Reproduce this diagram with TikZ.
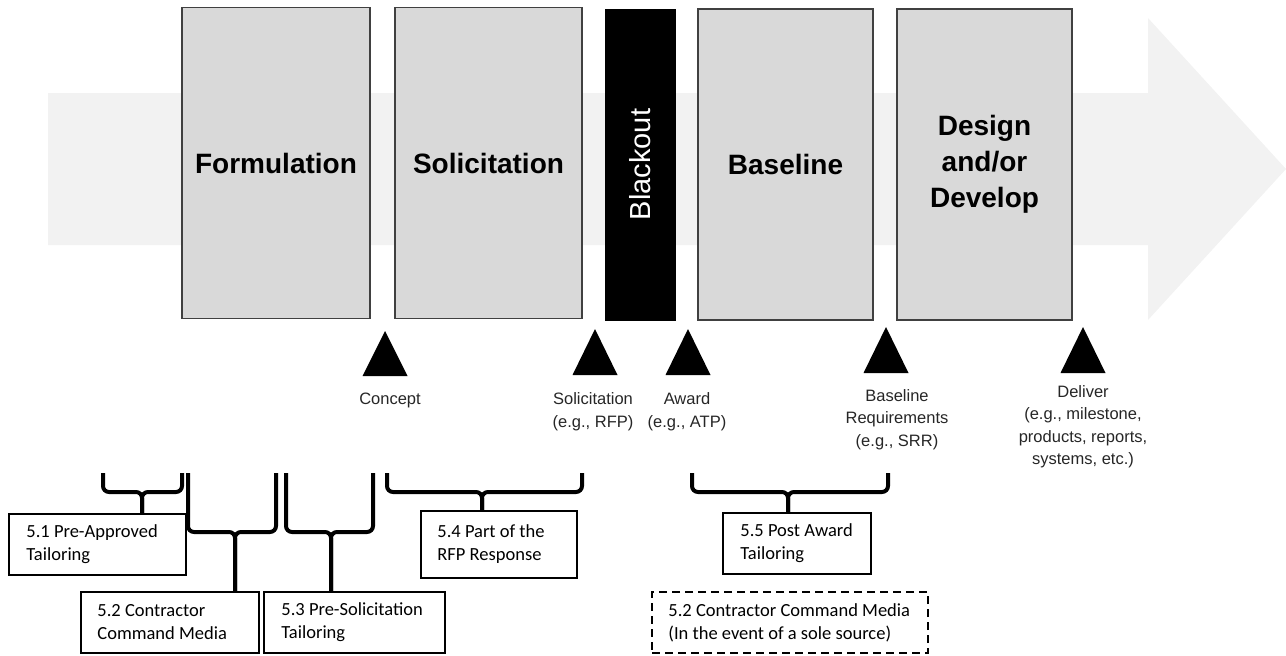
\documentclass[tikz,border=0pt]{standalone}
\usepackage{fontspec}
\setmainfont{Liberation Sans}
\newfontfamily\carlito{Carlito}
\definecolor{phasefill}{HTML}{D9D9D9}
\definecolor{arrowfill}{HTML}{F2F2F2}
\definecolor{labelgray}{HTML}{262626}
\begin{document}
\begin{tikzpicture}[x=1pt,y=-1pt,
  phase/.style={draw=black!75, fill=phasefill, line width=1.2pt, minimum height=311pt,
    inner sep=0pt, align=center, font=\fontsize{28}{36}\selectfont\bfseries},
  milestone/.style={fill=black},
  mlabel/.style={align=center, text=labelgray, inner sep=0pt, font=\fontsize{16.5}{22.5}\selectfont},
  boxframe/.style={draw=black, line width=1.6pt, minimum height=61pt, inner sep=0pt},
  boxtext/.style={anchor=west, align=left, inner sep=0pt, font=\carlito\fontsize{18.5}{23}\selectfont},
  brace/.style={line width=4pt, rounded corners=6pt}
]
\useasboundingbox (0,0) rectangle (1286,656);
% background arrow
\fill[arrowfill] (48,93) -- (1148,93) -- (1148,18) -- (1286,169) -- (1148,320) -- (1148,245) -- (48,245) -- cycle;
% phases
\node[phase, minimum width=188pt] (form) at (276,163) {Formulation};
\node[phase, minimum width=187pt] (soli) at (488.5,163) {Solicitation};
\node[draw=black, fill=black, minimum width=70pt, minimum height=311pt, inner sep=0pt] (black) at (640,164.5) {};
\node[rotate=90, text=white, font=\fontsize{29}{34}\selectfont] (blacktxt) at (black.center) {Blackout};
\node[phase, minimum width=175pt] (base) at (785.5,164.5) {Baseline};
\node[phase, minimum width=175pt] (design) at (984.5,164.5) {Design\\and/or\\Develop};
% milestones
\fill[milestone] (362.5,376) -- (385,331) -- (407.5,376) -- cycle;
\fill[milestone] (572.5,375) -- (595,329) -- (617.5,375) -- cycle;
\fill[milestone] (665.5,375) -- (688,329) -- (710.5,375) -- cycle;
\fill[milestone] (863.5,373) -- (886,327) -- (908.5,373) -- cycle;
\fill[milestone] (1060.5,373) -- (1083,327) -- (1105.5,373) -- cycle;
\node[mlabel] (lconcept) at (390,400) {Concept};
\node[mlabel] (lsol) at (593,411.5) {Solicitation\\(e.g., RFP)};
\node[mlabel] (laward) at (687,411.5) {Award\\(e.g., ATP)};
\node[mlabel] (lbase) at (897,419.5) {Baseline\\Requirements\\(e.g., SRR)};
\node[mlabel] (ldel) at (1083,426.5) {Deliver\\(e.g., milestone,\\products, reports,\\systems, etc.)};
% tailoring boxes
\node[boxframe, minimum width=177pt] (b51) at (97.5,544.5) {};
\node[boxtext] (t51) at ([xshift=18pt]b51.west) {5.1 Pre-Approved\\Tailoring};
\node[boxframe, minimum width=178pt] (b52) at (170,622.5) {};
\node[boxtext] (t52) at ([xshift=17pt]b52.west) {5.2 Contractor\\Command Media};
\node[boxframe, minimum width=181pt] (b53) at (354.5,622.5) {};
\node[boxtext] (t53) at ([xshift=18pt]b53.west) {5.3 Pre-Solicitation\\Tailoring};
\node[boxframe, minimum width=156pt, minimum height=67pt] (b54) at (499,544.5) {};
\node[boxtext] (t54) at ([xshift=17pt]b54.west) {5.4 Part of the\\RFP Response};
\node[boxframe, minimum width=148pt] (b55) at (797,543.5) {};
\node[boxtext] (t55) at ([xshift=18pt]b55.west) {5.5 Post Award\\Tailoring};
\node[boxframe, dash pattern=on 8pt off 5pt, line width=1.5pt, minimum width=276pt] (b52s) at (790,622.5) {};
\node[boxtext] (t52s) at ([xshift=17pt]b52s.west) {5.2 Contractor Command Media\\(In the event of a sole source)};
% brace junctions
\coordinate (j51) at (142,492);
\coordinate (j52) at (235,532);
\coordinate (j53) at (331,532);
\coordinate (j54) at (482,492);
\coordinate (j55) at (788,492);
% braces
\draw[brace] (103,473) |- (j51) -- (j51 |- b51.north);
\draw[brace] (182,473) |- (j51) -- (j51 |- b51.north);
\draw[brace] (188,473) |- (j52) -- (j52 |- b52.north);
\draw[brace] (276,473) |- (j52) -- (j52 |- b52.north);
\draw[brace] (286,473) |- (j53) -- (j53 |- b53.north);
\draw[brace] (373,473) |- (j53) -- (j53 |- b53.north);
\draw[brace] (387,473) |- (j54) -- (j54 |- b54.north);
\draw[brace] (582,473) |- (j54) -- (j54 |- b54.north);
\draw[brace] (692,473) |- (j55) -- (j55 |- b55.north);
\draw[brace] (888,473) |- (j55) -- (j55 |- b55.north);
\end{tikzpicture}
\end{document}
